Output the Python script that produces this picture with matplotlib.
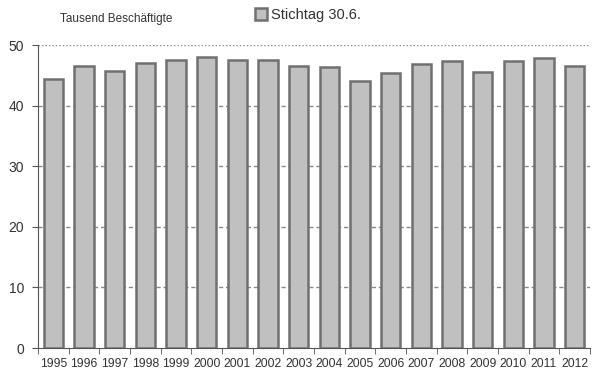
import numpy as np
import matplotlib
matplotlib.use("Agg")
import matplotlib.pyplot as plt
from matplotlib import font_manager

# Beschäftigte zum Stichtag 30.6., in Tausend
jahre = [str(j) for j in range(1995, 2013)]
beschaeftigte = [44.4, 46.5, 45.7, 47.1, 47.6, 48.0, 47.5, 47.6, 46.5,
                 46.3, 44.1, 45.4, 46.9, 47.4, 45.6, 47.4, 47.8, 46.5]
y_ticks = [0, 10, 20, 30, 40, 50]


def set_font():
    available = {f.name for f in font_manager.fontManager.ttflist}
    for font in ["Liberation Sans Narrow", "Liberation Sans", "DejaVu Sans"]:
        if font in available:
            plt.rcParams["font.family"] = [font, "DejaVu Sans"]
            return


set_font()

fig = plt.figure(figsize=(6.06, 3.70), dpi=100)
ax = fig.add_axes([38 / 606, 22 / 370, 552 / 606, 303 / 370])

x = np.arange(len(jahre))
ax.bar(x, beschaeftigte, width=0.64, color="#c0c0c0", edgecolor="#707070",
       linewidth=1.8, zorder=3, label="Stichtag 30.6.")

ax.set_xlim(-0.5, len(jahre) - 0.5)
ax.set_ylim(0, 50)
ax.set_yticks(y_ticks)
ax.tick_params(axis="y", length=4, color="#555555", labelsize=10, pad=6,
               labelcolor="#333333")

# Jahreslabels mittig, Striche zwischen den Balken
ax.set_xticks(x)
ax.set_xticklabels(jahre, fontsize=8.7, color="#333333")
ax.tick_params(axis="x", length=0, pad=7)
ax.set_xticks(np.arange(-0.5, len(jahre)), minor=True)
ax.tick_params(axis="x", which="minor", length=4, color="#555555")

for v in y_ticks[1:-1]:
    ax.axhline(v, color="#8a8a8a", lw=1.0, ls=(0, (3, 2)), zorder=1)
ax.axhline(50, color="#8a8a8a", lw=1.0, ls=(0, (1, 1.5)), zorder=1)

for s in ["top", "right"]:
    ax.spines[s].set_visible(False)
ax.spines["left"].set_color("#555555")
ax.spines["bottom"].set_color("#555555")

fig.text(60 / 606, 1 - 19 / 370, "Tausend Beschäftigte", fontsize=8.5,
         color="#333333", va="center")
ax.legend(loc="center", bbox_to_anchor=(308 / 606, 1 - 15 / 370),
          bbox_transform=fig.transFigure, frameon=False, fontsize=10.5,
          handlelength=0.8, handleheight=0.8, handletextpad=0.3,
          labelcolor="#333333")

fig.savefig("out.png", dpi=100)
